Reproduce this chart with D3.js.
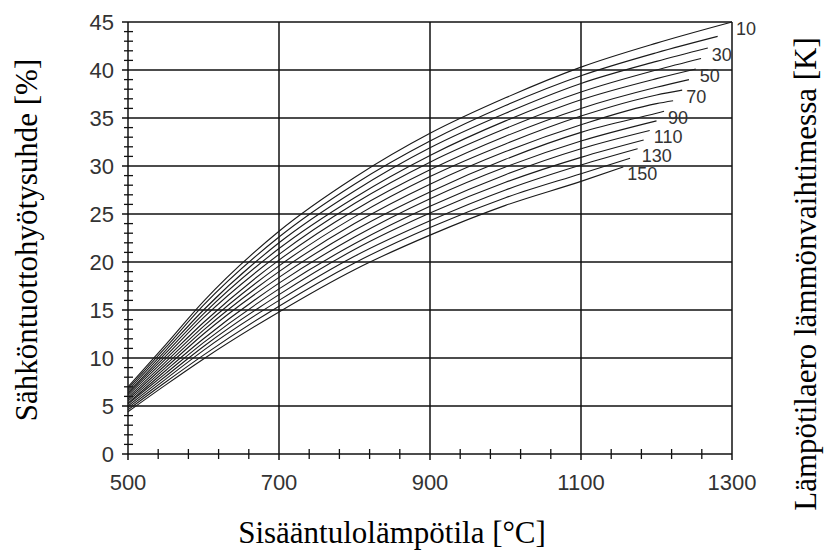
<!DOCTYPE html>
<html>
<head>
<meta charset="utf-8">
<script src="https://cdn.jsdelivr.net/npm/d3@7"></script>
<style>
  html, body { margin: 0; padding: 0; background: #fff; }
  svg { display: block; }
</style>
</head>
<body>
<svg id="chart" width="829" height="555"></svg>
<script>
// ---- Data ----
const temperatureGrid = [500, 550, 600, 700, 800, 900, 1000, 1100, 1200];
const deltaT = [10, 20, 30, 40, 50, 60, 70, 80, 90, 100, 110, 120, 130, 140, 150];
const labeledDeltaT = [10, 30, 50, 70, 90, 110, 130, 150];

// efficiency [%] of each curve at temperatureGrid points (until curve end)
const eff10  = [7.0, 11.4, 15.9, 23.2, 28.8, 33.4, 37.1, 40.3, 42.8];
const eff20  = [6.8, 11.1, 15.5, 22.6, 28.1, 32.6, 36.3, 39.4, 41.8];
const eff30  = [6.6, 10.8, 15.0, 22.0, 27.4, 31.9, 35.5, 38.6, 40.9];
const eff40  = [6.4, 10.5, 14.6, 21.4, 26.7, 31.1, 34.7, 37.7, 40.0];
const eff50  = [6.3, 10.2, 14.2, 20.8, 26.1, 30.4, 33.9, 36.9, 39.1];
const eff60  = [6.1,  9.9, 13.7, 20.2, 25.4, 29.6, 33.1, 36.0, 38.2];
const eff70  = [5.9,  9.6, 13.3, 19.6, 24.7, 28.9, 32.3, 35.2, 37.4];
const eff80  = [5.7,  9.3, 12.9, 19.0, 24.0, 28.1, 31.5, 34.3, 36.5];
const eff90  = [5.5,  9.0, 12.5, 18.4, 23.3, 27.3, 30.7, 33.5, 35.5];
const eff100 = [5.3,  8.7, 12.0, 17.8, 22.6, 26.6, 29.9, 32.6];
const eff110 = [5.2,  8.4, 11.6, 17.2, 21.9, 25.8, 29.1, 31.8];
const eff120 = [5.0,  8.1, 11.2, 16.6, 21.3, 25.1, 28.3, 30.9];
const eff130 = [4.8,  7.8, 10.8, 16.0, 20.6, 24.3, 27.5, 30.1];
const eff140 = [4.6,  7.5, 10.3, 15.4, 19.9, 23.6, 26.7, 29.2];
const eff150 = [4.4,  7.2,  9.9, 14.8, 19.2, 22.8, 25.9, 28.4];

// end point of every curve (temperature, efficiency)
const endTemp = [1300, 1281, 1268, 1259, 1252, 1243, 1234, 1222, 1210, 1200, 1191, 1183, 1175, 1165, 1156];
const endEff  = [45.0, 43.5, 42.3, 41.2, 40.1, 39.0, 37.9, 36.8, 35.7, 34.7, 33.7, 32.7, 31.8, 30.8, 29.9];

const xTicks = [500, 700, 900, 1100, 1300];
const yTicks = [0, 5, 10, 15, 20, 25, 30, 35, 40, 45];
const marker = [900, 28];

const xTitle = "Sisääntulolämpötila [°C]";
const yTitle = "Sähköntuottohyötysuhde [%]";
const y2Title = "Lämpötilaero lämmönvaihtimessa [K]";

const effSeries = [eff10, eff20, eff30, eff40, eff50, eff60, eff70, eff80, eff90,
                   eff100, eff110, eff120, eff130, eff140, eff150];

// ---- Layout ----
const svg = d3.select("#chart");
const x = d3.scaleLinear().domain([500, 1300]).range([128, 732]);
const y = d3.scaleLinear().domain([0, 45]).range([454, 22]);

const ink = "#111";

// grid lines
const g = svg.append("g");
g.selectAll("line.hgrid").data(yTicks).enter().append("line")
  .attr("x1", x(500) - 6).attr("x2", x(1300))
  .attr("y1", d => y(d)).attr("y2", d => y(d))
  .attr("stroke", ink).attr("stroke-width", 1.5);
g.selectAll("line.vgrid").data(xTicks).enter().append("line")
  .attr("y1", y(0) + 6).attr("y2", y(45))
  .attr("x1", d => x(d)).attr("x2", d => x(d))
  .attr("stroke", ink).attr("stroke-width", 1.5);

// minor ticks on y axis (every 1 %)
const yMinor = d3.range(0, 46, 1).filter(v => v % 5 !== 0);
g.selectAll("line.ymin").data(yMinor).enter().append("line")
  .attr("x1", x(500) - 4).attr("x2", x(500) + 5)
  .attr("y1", d => y(d)).attr("y2", d => y(d))
  .attr("stroke", ink).attr("stroke-width", 1.3);

// minor ticks on x axis (every 40 °C)
const xMinor = d3.range(540, 1300, 40).filter(v => (v - 500) % 200 !== 0);
g.selectAll("line.xmin").data(xMinor).enter().append("line")
  .attr("y1", y(0) - 5).attr("y2", y(0) + 5)
  .attr("x1", d => x(d)).attr("x2", d => x(d))
  .attr("stroke", ink).attr("stroke-width", 1.3);

// tick labels
svg.append("g").selectAll("text").data(xTicks).enter().append("text")
  .attr("x", d => x(d)).attr("y", 490)
  .attr("text-anchor", "middle")
  .attr("font-family", "Liberation Sans, Arial, sans-serif")
  .attr("font-size", 22).attr("fill", "#333")
  .text(d => d);
svg.append("g").selectAll("text").data(yTicks).enter().append("text")
  .attr("x", 114).attr("y", d => y(d) + 8)
  .attr("text-anchor", "end")
  .attr("font-family", "Liberation Sans, Arial, sans-serif")
  .attr("font-size", 22).attr("fill", "#333")
  .text(d => d);

// curves
const line = d3.line()
  .x(d => x(d[0])).y(d => y(d[1]))
  .curve(d3.curveMonotoneX);
const curves = effSeries.map((vals, i) => {
  const pts = vals.map((v, j) => [temperatureGrid[j], v])
    .filter(p => p[0] < endTemp[i]);
  pts.push([endTemp[i], endEff[i]]);
  return pts;
});
svg.append("g").selectAll("path").data(curves).enter().append("path")
  .attr("d", line)
  .attr("fill", "none").attr("stroke", "#1a1a1a").attr("stroke-width", 1.1);

// curve labels
svg.append("g").selectAll("text").data(labeledDeltaT).enter().append("text")
  .attr("x", d => x(endTemp[deltaT.indexOf(d)]) + 4)
  .attr("y", d => y(endEff[deltaT.indexOf(d)]) + 13)
  .attr("font-family", "Liberation Sans, Arial, sans-serif")
  .attr("font-size", 18).attr("fill", "#333")
  .text(d => d);

// marker
svg.append("path")
  .attr("d", d3.symbol(d3.symbolTimes, 60)())
  .attr("transform", `translate(${x(marker[0])},${y(marker[1])})`)
  .attr("fill", "#111");

// axis titles
svg.append("text")
  .attr("x", 392).attr("y", 543)
  .attr("text-anchor", "middle")
  .attr("font-family", "Liberation Serif, Times New Roman, serif")
  .attr("font-size", 31).attr("fill", "#000")
  .text(xTitle);
svg.append("text")
  .attr("transform", "translate(37,240) rotate(-90)")
  .attr("text-anchor", "middle")
  .attr("font-family", "Liberation Serif, Times New Roman, serif")
  .attr("font-size", 31).attr("fill", "#000")
  .text(yTitle);
svg.append("text")
  .attr("transform", "translate(816,274) rotate(-90)")
  .attr("text-anchor", "middle")
  .attr("font-family", "Liberation Serif, Times New Roman, serif")
  .attr("font-size", 31).attr("fill", "#000")
  .text(y2Title);
</script>
</body>
</html>
